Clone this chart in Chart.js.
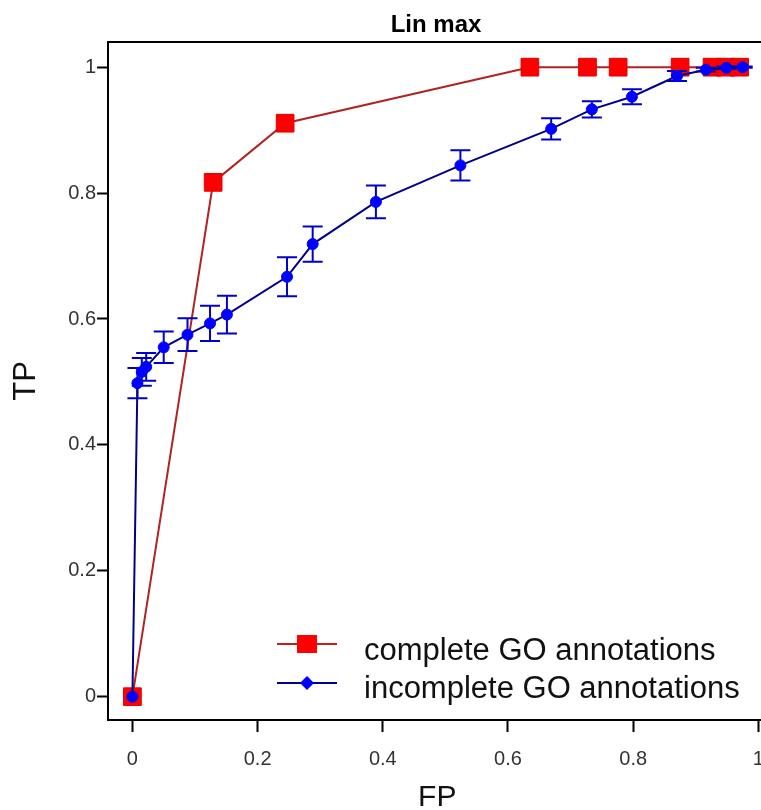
<!DOCTYPE html>
<html>
<head>
<meta charset="utf-8">
<title>Lin max</title>
<script src="https://cdn.jsdelivr.net/npm/chart.js@4.4.1/dist/chart.umd.min.js"></script>
<style>
  html, body { margin: 0; padding: 0; background: #fff; overflow: hidden; }
  #wrap { width: 780px; height: 810px; }
</style>
</head>
<body>
<div id="wrap"><canvas id="roc" width="780" height="810"></canvas></div>
<script>
const chartTitle = 'Lin max';
const seriesNames = ['complete GO annotations', 'incomplete GO annotations'];

const fpTicks = [0, 0.2, 0.4, 0.6, 0.8, 1];
const tpTicks = [0, 0.2, 0.4, 0.6, 0.8, 1];

// complete GO annotations
const completeFP = [0, 0.129, 0.244, 0.635, 0.727, 0.776, 0.875, 0.926, 0.948, 0.970];
const completeTP = [0, 0.817, 0.911, 1, 1, 1, 1, 1, 1, 1];

// incomplete GO annotations (mean +- error)
const incompleteFP = [0, 0.008, 0.015, 0.022, 0.050, 0.088, 0.124, 0.151, 0.247, 0.288,
                      0.389, 0.524, 0.669, 0.734, 0.798, 0.870, 0.916, 0.949, 0.975];
const incompleteTP = [0, 0.498, 0.516, 0.524, 0.555, 0.575, 0.593, 0.607, 0.667, 0.719,
                      0.786, 0.844, 0.902, 0.933, 0.953, 0.986, 0.996, 0.999, 1.0];
const incompleteErr = [0, 0.024, 0.022, 0.022, 0.025, 0.026, 0.028, 0.030, 0.031, 0.028,
                       0.026, 0.024, 0.017, 0.013, 0.012, 0.008, 0.003, 0.002, 0.001];

const FONT = '"Liberation Sans", Arial, sans-serif';

function toPoints(xs, ys) {
    return xs.map((v, i) => ({ x: v, y: ys[i] }));
}

// error bars, drawn just before the blue points so the markers sit on top
const errorBars = {
    id: 'errorBars',
    beforeDatasetDraw(chart, args) {
        const ds = chart.data.datasets[args.index];
        if (!ds.errors) return;
        const { ctx, scales: { x, y } } = chart;
        ctx.save();
        ctx.strokeStyle = '#0000cc';
        ctx.lineWidth = 2;
        ds.data.forEach((p, i) => {
            const e = ds.errors[i];
            if (!e) return;
            const px = x.getPixelForValue(p.x);
            const top = y.getPixelForValue(p.y + e);
            const bot = y.getPixelForValue(p.y - e);
            ctx.beginPath();
            ctx.moveTo(px, top); ctx.lineTo(px, bot);
            ctx.moveTo(px - 10, top); ctx.lineTo(px + 10, top);
            ctx.moveTo(px - 10, bot); ctx.lineTo(px + 10, bot);
            ctx.stroke();
        });
        ctx.restore();
    }
};

// box top/right, title and the legend in the lower right
const decorations = {
    id: 'decorations',
    afterDraw(chart) {
        const { ctx, chartArea: a } = chart;
        ctx.save();

        ctx.strokeStyle = '#000';
        ctx.lineWidth = 2;
        ctx.beginPath();
        ctx.moveTo(a.left - 1, a.top);
        ctx.lineTo(a.right, a.top);
        ctx.lineTo(a.right, a.bottom);
        ctx.stroke();

        ctx.fillStyle = '#000';
        ctx.font = 'bold 24px ' + FONT;
        ctx.textAlign = 'center';
        ctx.textBaseline = 'alphabetic';
        ctx.fillText(chartTitle, 436, 32);

        // legend
        ctx.lineWidth = 2;
        ctx.strokeStyle = '#c02020';
        ctx.beginPath();
        ctx.moveTo(277, 644); ctx.lineTo(337, 644);
        ctx.stroke();
        ctx.fillStyle = '#ff0000';
        ctx.fillRect(297, 635, 20, 18);

        ctx.strokeStyle = '#00008b';
        ctx.beginPath();
        ctx.moveTo(277, 683); ctx.lineTo(337, 683);
        ctx.stroke();
        ctx.fillStyle = '#0000ff';
        ctx.beginPath();
        ctx.moveTo(307, 676); ctx.lineTo(314, 683); ctx.lineTo(307, 690); ctx.lineTo(300, 683);
        ctx.closePath();
        ctx.fill();

        ctx.fillStyle = '#111';
        ctx.font = '31px ' + FONT;
        ctx.textAlign = 'left';
        ctx.fillText(seriesNames[0], 364, 660);
        ctx.fillText(seriesNames[1], 364, 698);

        ctx.restore();
    }
};

const tickFont = { size: 20, family: FONT };

new Chart(document.getElementById('roc'), {
    type: 'scatter',
    data: {
        datasets: [
            {
                label: seriesNames[0],
                data: toPoints(completeFP, completeTP),
                showLine: true,
                borderColor: '#b22222',
                borderWidth: 2,
                pointStyle: 'rect',
                pointRadius: 12.5,
                pointBackgroundColor: '#ff0000',
                pointBorderColor: '#e00000',
                pointBorderWidth: 1,
                order: 2
            },
            {
                label: seriesNames[1],
                data: toPoints(incompleteFP, incompleteTP),
                errors: incompleteErr,
                showLine: true,
                borderColor: '#00008b',
                borderWidth: 2,
                pointStyle: 'circle',
                pointRadius: 5.5,
                pointBackgroundColor: '#0000ff',
                pointBorderColor: '#0000ff',
                pointBorderWidth: 1,
                order: 1
            }
        ]
    },
    options: {
        responsive: false,
        animation: false,
        layout: { padding: { top: 42, right: 10, left: 0, bottom: 0 } },
        plugins: {
            legend: { display: false },
            title: { display: false },
            tooltip: { enabled: false }
        },
        scales: {
            x: {
                type: 'linear',
                min: -0.039,
                max: 1.013,
                afterBuildTicks: (s) => { s.ticks = fpTicks.map(v => ({ value: v })); },
                afterFit: (s) => { s.height = 90; },
                grid: { drawOnChartArea: false, drawTicks: true, tickLength: 12, tickColor: '#000', tickWidth: 2 },
                border: { display: true, color: '#000', width: 2 },
                ticks: {
                    font: tickFont, color: '#333', padding: 15,
                    maxRotation: 0, autoSkip: false,
                    callback: (v) => String(v)
                },
                title: {
                    display: true, text: 'FP', color: '#111',
                    font: { size: 30, family: FONT, lineHeight: 0.84 },
                    padding: { top: 0, bottom: 0 }
                }
            },
            y: {
                type: 'linear',
                min: -0.037,
                max: 1.04,
                afterBuildTicks: (s) => { s.ticks = tpTicks.map(v => ({ value: v })); },
                afterFit: (s) => { s.width = 108; },
                grid: { drawOnChartArea: false, drawTicks: true, tickLength: 11, tickColor: '#000', tickWidth: 2 },
                border: { display: true, color: '#000', width: 2 },
                ticks: {
                    font: tickFont, color: '#333', padding: 1,
                    autoSkip: false,
                    callback: (v) => String(v)
                },
                title: {
                    display: true, text: 'TP', color: '#111',
                    font: { size: 31, family: FONT, lineHeight: 1 },
                    padding: { top: 11, bottom: 0 }
                }
            }
        }
    },
    plugins: [errorBars, decorations]
});
</script>
</body>
</html>
